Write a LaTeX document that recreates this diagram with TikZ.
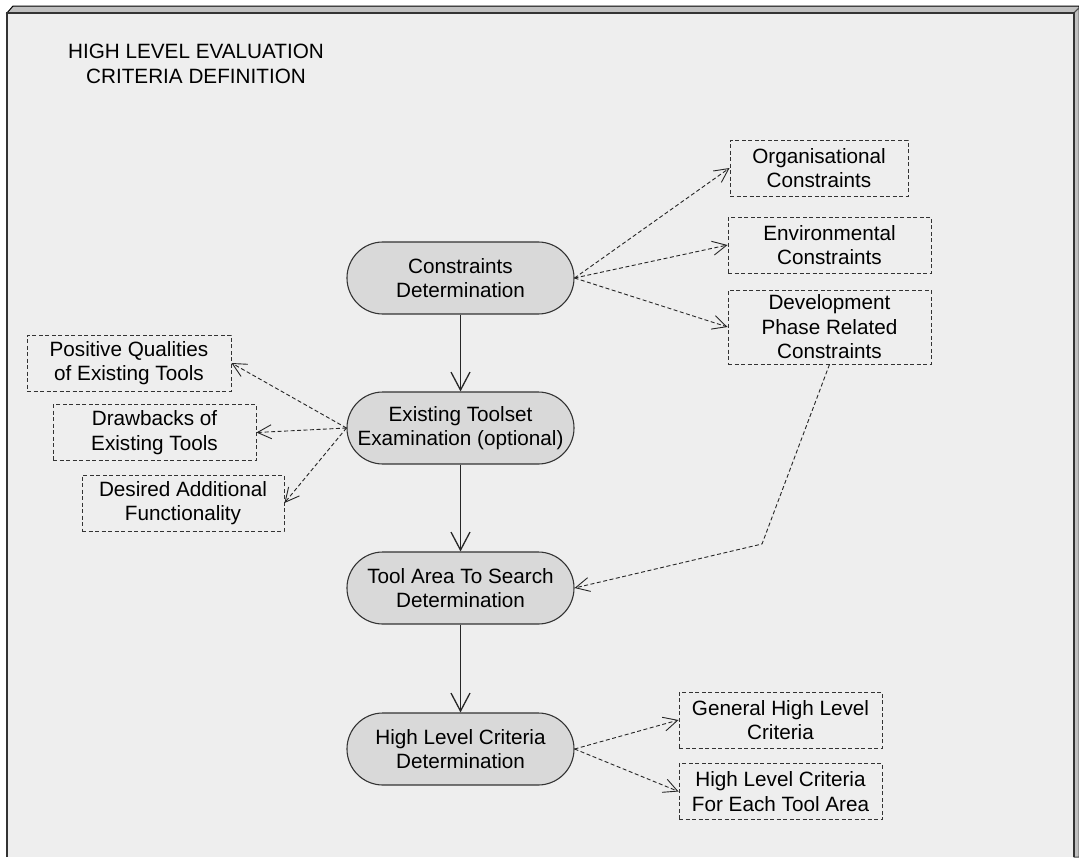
\documentclass[tikz,border=0pt]{standalone}
\usepackage{fontspec}
\setmainfont{Liberation Sans}
\usetikzlibrary{arrows.meta}
\definecolor{facegray}{HTML}{EEEEEE}
\definecolor{bevelgray}{HTML}{C0C0C0}
\definecolor{pillgray}{HTML}{D9D9D9}
\definecolor{edgegray}{HTML}{333333}
\begin{document}
\begin{tikzpicture}
        [x=1pt,y=-1pt,
        every node/.style={align=center,inner sep=0pt,font=\fontsize{20.7}{24.5}\selectfont},
        activity/.style={fill=pillgray,draw=edgegray,line width=1.1pt,rounded corners=35.9pt,
          minimum width=227pt,minimum height=72pt},
        note/.style={draw=black!80,dash pattern=on 4pt off 2.5pt,line width=0.9pt,
          minimum width=203pt,minimum height=56pt},
        flow/.style={-{Straight Barb[length=18pt,width=19pt]},line width=1.3pt,draw=black!85},
        link/.style={-{Straight Barb[length=14pt,width=14pt]},line width=0.9pt,
          dash pattern=on 4pt off 2.5pt,draw=black!85}]
        \useasboundingbox (0,0) rectangle (1079,857);
        \fill[white] (0,0) rectangle (1079,857);
        \fill[facegray] (7,13) rectangle (1074,857);
        \filldraw[fill=bevelgray,draw=black,line width=1pt]
          (7,13) -- (13,6) -- (1079,6) -- (1079,8) -- (1074,13) -- cycle;
        \filldraw[fill=bevelgray,draw=black!70,line width=1pt]
          (1074,13) -- (1079,8) -- (1079,857) -- (1074,857) -- cycle;
        \draw[edgegray,line width=1.4pt] (7,857) -- (7,13) -- (1074,13) -- (1074,857);
        \node (title) at (196,64) {HIGH LEVEL EVALUATION\\CRITERIA DEFINITION};
        \node[activity] (cons) at (460.5,278) {Constraints\\Determination};
        \node[activity] (exist) at (460.5,428) {Existing Toolset\\Examination (optional)};
        \node[activity] (area) at (460.5,588) {Tool Area To Search\\Determination};
        \node[activity] (crit) at (460.5,749) {High Level Criteria\\Determination};
        \node[note,minimum width=178pt] (org) at (819,168) {Organisational\\Constraints};
        \node[note] (env) at (829.5,245) {Environmental\\Constraints};
        \node[note,minimum height=74pt] (dev) at (829.5,327) {Development\\Phase Related\\Constraints};
        \node[note,minimum width=204pt] (pos) at (129,363) {Positive Qualities\\of Existing Tools};
        \node[note] (drawb) at (154.5,432.5) {Drawbacks of\\Existing Tools};
        \node[note,minimum width=202pt] (desired) at (183,503) {Desired Additional\\Functionality};
        \node[note] (general) at (780.5,720) {General High Level\\Criteria};
        \node[note] (each) at (780.5,791.5) {High Level Criteria\\For Each Tool Area};
        \coordinate (bend) at (762,544);
        \draw[flow] (cons) -- (exist);
        \draw[flow] (exist) -- (area);
        \draw[flow] (area) -- (crit);
        \draw[link] (cons.east) -- (org.west);
        \draw[link] (cons.east) -- (env.west);
        \draw[link] (cons.east) -- (dev.west);
        \draw[link] (exist.west) -- (pos.east);
        \draw[link] (exist.west) -- (drawb.east);
        \draw[link] (exist.west) -- (desired.east);
        \draw[link] (dev.south) -- (bend) -- (area.east);
        \draw[link] (crit.east) -- (general.west);
        \draw[link] (crit.east) -- (each.west);
      \end{tikzpicture}
\end{document}
